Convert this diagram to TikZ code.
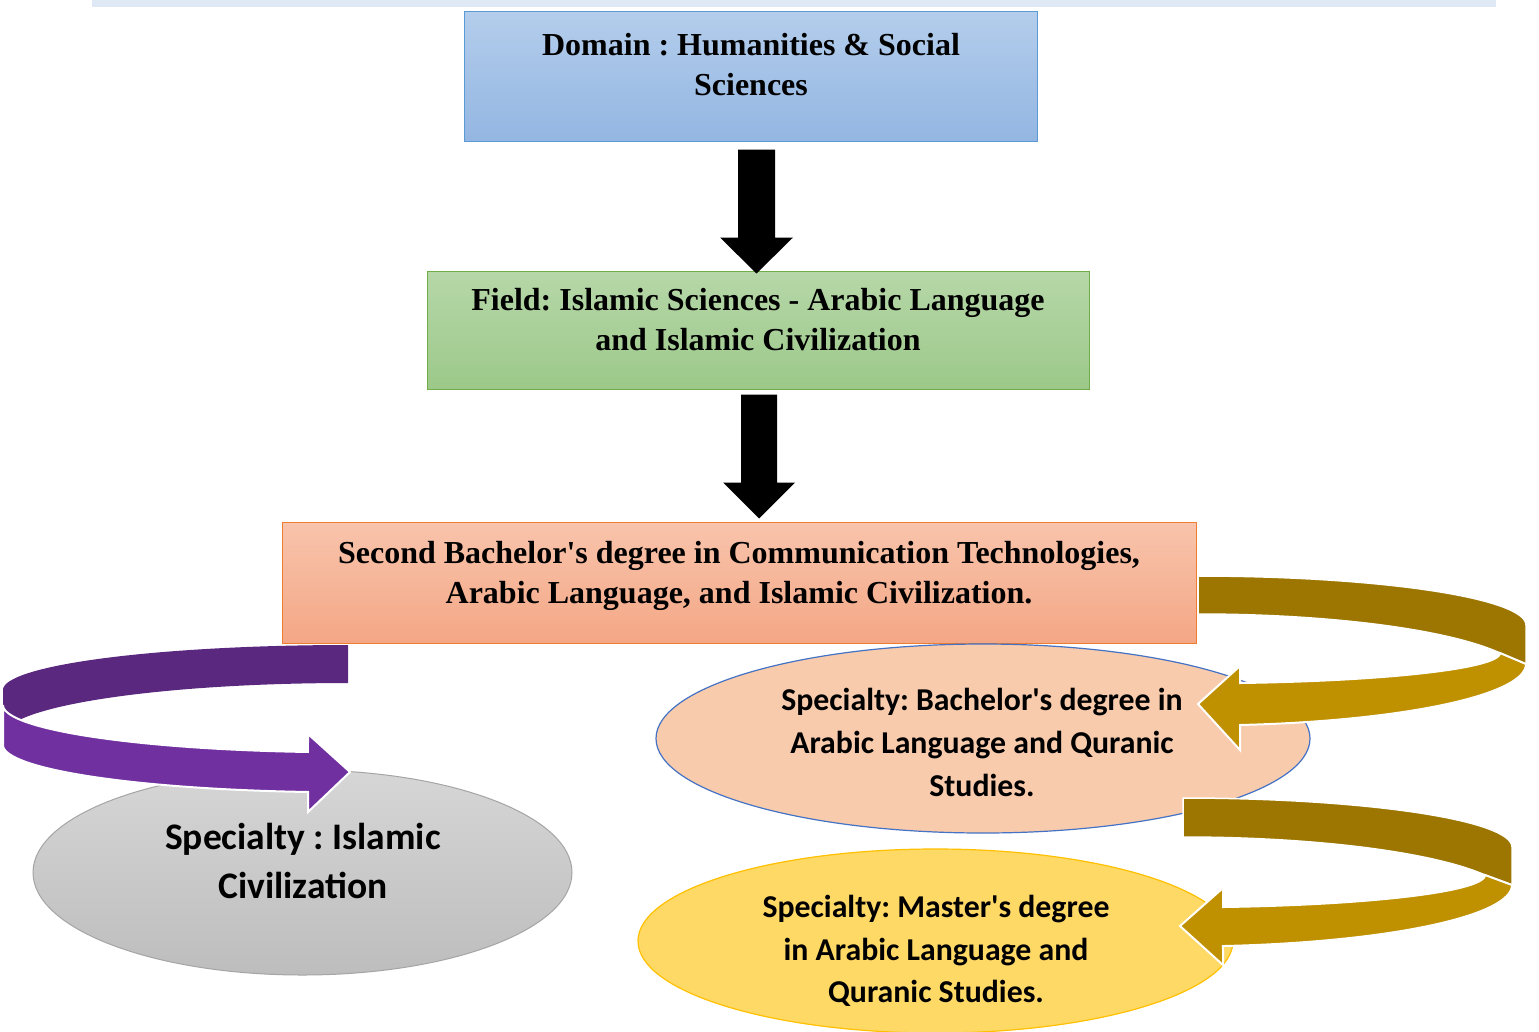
\documentclass[tikz,border=0pt]{standalone}
\usepackage{fontspec}
\setmainfont{Liberation Serif}[Ligatures=TeXOff]
\newfontfamily\calfont{Carlito}
\usetikzlibrary{shapes.geometric,calc}
\frenchspacing
\definecolor{bandblue}{HTML}{DEE9F5}
\definecolor{b1top}{HTML}{B4CDEB}
\definecolor{b1bot}{HTML}{93B6E2}
\definecolor{b1line}{HTML}{5B9BD5}
\definecolor{b2top}{HTML}{B6D7A8}
\definecolor{b2bot}{HTML}{9CC98A}
\definecolor{b2line}{HTML}{70AD47}
\definecolor{b3top}{HTML}{F8C4AC}
\definecolor{b3bot}{HTML}{F4A785}
\definecolor{b3line}{HTML}{ED7D31}
\definecolor{greytop}{HTML}{D6D6D6}
\definecolor{greybot}{HTML}{BDBDBD}
\definecolor{greyline}{HTML}{A5A5A5}
\definecolor{peach}{HTML}{F8CBAD}
\definecolor{peachline}{HTML}{4472C4}
\definecolor{yell}{HTML}{FFD966}
\definecolor{yellline}{HTML}{FFC000}
\definecolor{purpD}{HTML}{5A287E}
\definecolor{purpL}{HTML}{7030A0}
\definecolor{goldD}{HTML}{9C7600}
\definecolor{goldL}{HTML}{BF9000}
\begin{document}
\begin{tikzpicture}[x=1pt,y=-1pt,
  boxstyle/.style={rectangle, inner sep=0pt, line width=1pt},
  serif/.style={align=center, font=\frenchspacing\fontsize{32}{40}\selectfont\bfseries, inner sep=0pt},
  sans/.style={align=center, font=\frenchspacing\calfont\fontsize{31.8}{42.7}\selectfont\bfseries, inner sep=0pt},
  sansbig/.style={align=center, font=\frenchspacing\calfont\fontsize{37.5}{49}\selectfont\bfseries, inner sep=0pt},
  blk/.style={fill=black},
  ring/.style={line width=2pt, draw=white, line join=miter}]
\fill[white] (0,0) rectangle (1539,1031);
\useasboundingbox (0,0) rectangle (1539,1031);
\fill[bandblue] (92,0) rectangle (1496,7);

% boxes
\node[boxstyle, minimum width=573pt, minimum height=130pt, top color=b1top, bottom color=b1bot, draw=b1line] (b1) at (750.5,76) {};
\node[boxstyle, minimum width=662pt, minimum height=118pt, top color=b2top, bottom color=b2bot, draw=b2line] (b2) at (758,330) {};
\node[boxstyle, minimum width=914pt, minimum height=121pt, top color=b3top, bottom color=b3bot, draw=b3line] (b3) at (739,582.5) {};

\node[serif] (t1) at (751,65) {Domain : Humanities \& Social\\Sciences};
\node[serif] (t2) at (758,319.5) {Field: Islamic Sciences - Arabic Language\\and Islamic Civilization};
\node[serif] (t3) at (739,575.5) {Second Bachelor's degree in Communication Technologies,\\Arabic Language, and Islamic Civilization.};

% black block arrows
\coordinate (a1s) at ($(b1.south)+(6,8)$);
\coordinate (a1e) at ($(b2.north)+(-1.5,3)$);
\coordinate (a2s) at ($(b2.south)+(1,5)$);
\coordinate (a2e) at ($(b3.north)+(20,-3)$);
\fill[blk] ($(a1s)+(-18.5,0)$) -- ($(a1s)+(18.5,0)$) -- ($(a1e)+(18.5,-36)$) -- ($(a1e)+(36.5,-36)$) -- (a1e) -- ($(a1e)+(-36.5,-36)$) -- ($(a1e)+(-18.5,-36)$) -- cycle;
\fill[blk] ($(a2s)+(-18,0)$) -- ($(a2s)+(18,0)$) -- ($(a2e)+(18,-36)$) -- ($(a2e)+(36,-36)$) -- (a2e) -- ($(a2e)+(-36,-36)$) -- ($(a2e)+(-18,-36)$) -- cycle;

% ellipses
\node[ellipse, inner sep=0pt, minimum width=539pt, minimum height=205pt, top color=greytop, bottom color=greybot, draw=greyline, line width=1pt] (e1) at (302.5,872.5) {};
\node[ellipse, inner sep=0pt, minimum width=654pt, minimum height=189pt, fill=peach, draw=peachline, line width=1.2pt] (e2) at (983,738.5) {};
\node[ellipse, inner sep=0pt, minimum width=595pt, minimum height=184pt, fill=yell, draw=yellline, line width=1.2pt] (e3) at (935.5,941) {};

% purple curved arrow
\fill[purpD] plot[domain=270:180,samples=50,variable=\t] ({348+345*cos(\t)},{690+45*sin(\t)})
  -- plot[domain=180:270,samples=50,variable=\t] ({348+345*cos(\t)},{736+53*sin(\t)}) -- cycle;
\filldraw[fill=purpL, ring] plot[domain=180:96.66,samples=50,variable=\t] ({348+345*cos(\t)},{705+47.3*sin(\t)})
  -- (308,734) -- (350,772) -- (308,812)
  -- plot[domain=96.66:180,samples=50,variable=\t] ({348+345*cos(\t)},{745+47.3*sin(\t)}) -- cycle;

% gold curved arrow 1
\filldraw[fill=goldD, ring, line width=1.5pt] plot[domain=270:360,samples=50,variable=\t] ({1198+328*cos(\t)},{625+49*sin(\t)})
  -- (1526,664) -- (1500,653)
  -- plot[domain=337.03:270,samples=50,variable=\t] ({1198+328*cos(\t)},{678+64*sin(\t)}) -- cycle;
\filldraw[fill=goldL, ring] plot[domain=0:82.0,samples=50,variable=\t] ({1198+302*cos(\t)},{653+30.3*sin(\t)})
  -- (1240,666) -- (1198,704) -- (1240,750)
  -- plot[domain=82.64:0,samples=50,variable=\t] ({1198+328*cos(\t)},{664+61.5*sin(\t)}) -- cycle;

% gold curved arrow 2
\filldraw[fill=goldD, ring, line width=1.5pt] plot[domain=270:360,samples=50,variable=\t] ({1183+329*cos(\t)},{847+49*sin(\t)})
  -- (1512,885) -- (1485,875)
  -- plot[domain=336.6:270,samples=50,variable=\t] ({1183+329*cos(\t)},{900+63*sin(\t)}) -- cycle;
\filldraw[fill=goldL, ring] plot[domain=0:82.39,samples=50,variable=\t] ({1183+302*cos(\t)},{875+32.3*sin(\t)})
  -- (1223,888) -- (1180,926) -- (1223,965)
  -- plot[domain=83.02:0,samples=50,variable=\t] ({1183+329*cos(\t)},{885+61.5*sin(\t)}) -- cycle;

% ellipse texts
\node[sansbig] (s1) at (303,861) {Specialty : Islamic\\Civilization};
\node[sans] (s2) at (982,742.5) {Specialty: Bachelor's degree in\\Arabic Language and Quranic\\Studies.};
\node[sans] (s3) at (936,951) {Specialty: Master's degree\\in Arabic Language and\\Quranic Studies.};
\end{tikzpicture}
\end{document}
